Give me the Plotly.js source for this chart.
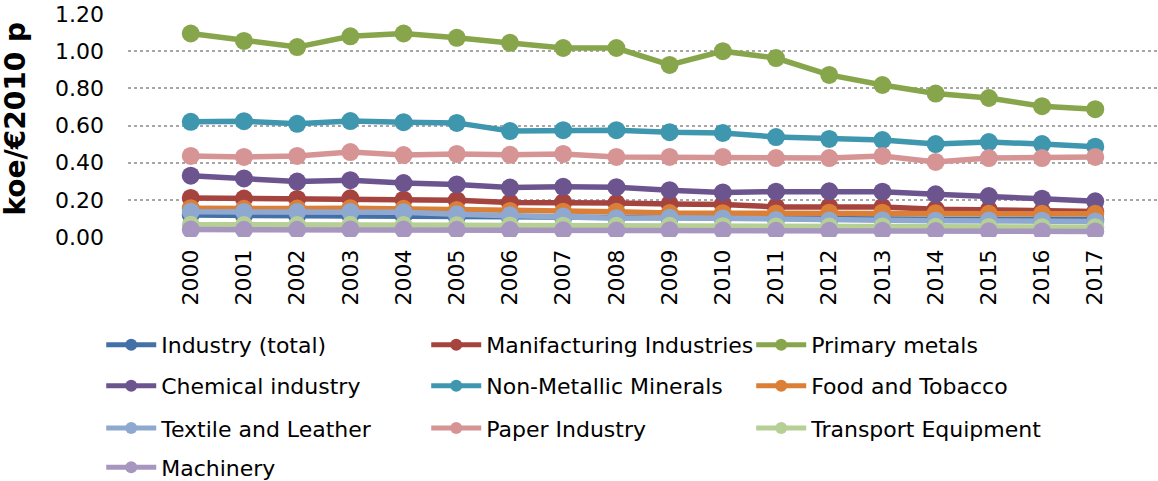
<!DOCTYPE html>
<html><head><meta charset="utf-8">
<script src="https://cdn.plot.ly/plotly-3.0.1.min.js"></script>
<style>body{margin:0;background:#fff}#c{width:1158px;height:481px}</style>
</head><body><div id="c"></div>
<script>
const years = ['2000','2001','2002','2003','2004','2005','2006','2007','2008','2009','2010','2011','2012','2013','2014','2015','2016','2017'];
const industryTotal = [0.118,0.116,0.115,0.116,0.113,0.110,0.106,0.104,0.103,0.101,0.100,0.098,0.098,0.098,0.096,0.096,0.095,0.095];
const manufacturing = [0.210,0.207,0.205,0.208,0.201,0.198,0.186,0.187,0.183,0.178,0.175,0.162,0.163,0.162,0.150,0.146,0.138,0.137];
const primaryMetals = [1.095,1.055,1.022,1.080,1.095,1.072,1.045,1.017,1.017,0.926,1.000,0.963,0.872,0.818,0.772,0.748,0.704,0.688];
const chemical = [0.330,0.315,0.298,0.306,0.290,0.283,0.266,0.270,0.268,0.252,0.240,0.244,0.246,0.244,0.230,0.220,0.206,0.192];
const nonMetallic = [0.620,0.623,0.609,0.624,0.618,0.614,0.570,0.575,0.575,0.564,0.560,0.538,0.528,0.522,0.500,0.511,0.500,0.486];
const food = [0.155,0.152,0.153,0.155,0.152,0.145,0.140,0.136,0.136,0.129,0.128,0.127,0.131,0.131,0.128,0.125,0.125,0.125];
const textile = [0.136,0.135,0.134,0.135,0.133,0.122,0.117,0.110,0.101,0.104,0.100,0.091,0.089,0.090,0.088,0.089,0.088,0.084];
const paper = [0.436,0.431,0.436,0.457,0.441,0.447,0.442,0.447,0.431,0.431,0.431,0.425,0.425,0.436,0.404,0.425,0.425,0.431];
const transport = [0.066,0.064,0.064,0.066,0.064,0.063,0.062,0.061,0.060,0.060,0.058,0.057,0.056,0.056,0.055,0.054,0.053,0.053];
const machinery = [0.040,0.039,0.039,0.041,0.040,0.039,0.037,0.036,0.035,0.036,0.035,0.033,0.033,0.033,0.032,0.031,0.030,0.030];

const series = [
  {name:'Industry (total)', y:industryTotal, color:'#4470a8', legend:'legend'},
  {name:'Manifacturing Industries', y:manufacturing, color:'#a5433f', legend:'legend'},
  {name:'Primary metals', y:primaryMetals, color:'#87a54b', legend:'legend'},
  {name:'Chemical industry', y:chemical, color:'#6c548f', legend:'legend2'},
  {name:'Non-Metallic Minerals', y:nonMetallic, color:'#3e97ae', legend:'legend2'},
  {name:'Food and Tobacco', y:food, color:'#db7f37', legend:'legend2'},
  {name:'Textile and Leather', y:textile, color:'#8fa8d0', legend:'legend3'},
  {name:'Paper Industry', y:paper, color:'#d69494', legend:'legend3'},
  {name:'Transport Equipment', y:transport, color:'#b6cf95', legend:'legend3'},
  {name:'Machinery', y:machinery, color:'#a797c0', legend:'legend4'}
];

const traces = series.map(s => ({
  type:'scatter', mode:'lines+markers', name:s.name, x:years, y:s.y,
  line:{color:s.color, width:5.5}, marker:{color:s.color, size:18},
  legend:s.legend
}));

const FAM = 'Verdana, "DejaVu Sans", sans-serif';
const font = {family:FAM, size:22, color:'#000'};
function leg(y){
  return {orientation:'h', x:-0.026, xanchor:'left', y:y, yanchor:'middle',
    entrywidth:260, entrywidthmode:'pixels', itemsizing:'constant', itemwidth:50,
    font:font, bgcolor:'rgba(0,0,0,0)', traceorder:'normal'};
}
const layout = {
  width:1158, height:481,
  margin:{l:128, r:0, t:14, b:244, autoexpand:false},
  paper_bgcolor:'#fff', plot_bgcolor:'#fff',
  font:font,
  showlegend:true,
  xaxis:{type:'category', tickangle:-90, tickfont:font, showgrid:false, zeroline:false,
    showline:false, ticks:'', ticklabelstandoff:7, automargin:false},
  yaxis:{range:[0,1.2], tickvals:[0,0.2,0.4,0.6,0.8,1.0,1.2], tickformat:'.2f',
    tickfont:font, showgrid:true, gridcolor:'#a6a6a6', gridwidth:2, griddash:'dot',
    zeroline:false, showline:false, ticks:'', ticklabelstandoff:23, automargin:false},
  annotations:[{text:'<b>koe/€2010 p</b>', xref:'paper', yref:'paper', x:-0.109, y:0.53,
    xanchor:'center', yanchor:'middle', textangle:-90, showarrow:false,
    font:{family:FAM, size:28, color:'#000'}}],
  legend:leg(-0.484), legend2:leg(-0.668), legend3:leg(-0.857), legend4:leg(-1.033)
};
Plotly.newPlot('c', traces, layout, {displayModeBar:false, staticPlot:true});
</script></body></html>
